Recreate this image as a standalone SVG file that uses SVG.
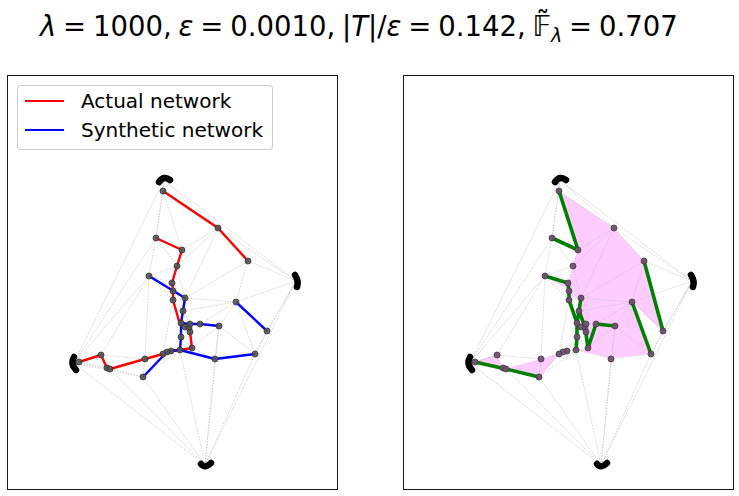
<svg xmlns="http://www.w3.org/2000/svg" xmlns:xlink="http://www.w3.org/1999/xlink" width="739" height="496" viewBox="0 0 739 496">
<style>
.frame{fill:none;stroke:#1a1a1a;stroke-width:1}
.mesh{fill:none;stroke:#bdbdbd;stroke-width:0.6;stroke-dasharray:1.6 1.2}
.red{fill:none;stroke:#ff0000;stroke-width:2.4;stroke-linejoin:round}
.blue{fill:none;stroke:#0000ff;stroke-width:2.4;stroke-linejoin:round}
.green{fill:none;stroke:#008000;stroke-width:3.6;stroke-linejoin:round;stroke-linecap:round}
.pink{fill:#ff00ff;fill-opacity:0.2;stroke:none}
.clu{fill:none;stroke:#000;stroke-width:6.5;stroke-linecap:round}
.nl{fill:#555;fill-opacity:0.9;stroke:#333;stroke-width:0.8}
.nr{fill:#6c546c;fill-opacity:0.95;stroke:#4a354a;stroke-width:0.8}
.t{font-family:"DejaVu Sans",sans-serif;fill:#000}
</style>
<defs>
<path id="meshp" class="mesh" d="M164 180L163 191M164 180L156 238M164 180L74 363M164 180L218 228M164 180L296 281M163 191L156 238M163 191L218 228M163 191L182 250M156 238L182 250M218 228L182 250M218 228L248 261M218 228L296 281M248 261L296 281M218 228L177 266M218 228L185 298M248 261L185 298M248 261L236 302M236 302L296 281M267 331L296 281M236 302L267 331M255 354L296 281M255 354L267 331M205 465L296 281M205 465L255 354M205 465L215 359M205 465L219 326M205 465L180 350M205 465L143 377M205 465L110 369M205 465L74 363M156 238L177 266M182 250L177 266M156 238L149 276M156 238L74 363M149 276L74 363M101 355L74 363M107 368L74 363M143 377L74 363M149 276L101 355M149 276L177 266M177 266L172 283M149 276L172 283M172 283L173 291M173 291L173 300M149 276L173 300M173 300L185 298M177 266L185 298M185 298L183 311M185 298L236 302M183 311L173 300M183 311L181 323M183 311L236 302M183 311L190 324M190 324L200 324M200 324L236 302M200 324L219 326M219 326L236 302M219 326L215 359M219 326L255 354M215 359L255 354M236 302L255 354M215 359L192 348M219 326L192 348M190 332L192 348M181 337L192 348M181 337L181 323M181 337L180 350M180 350L192 348M180 350L215 359M180 350L171 351M171 351L167 352M167 352L163 354M163 354L145 359M145 359L101 355M145 359L143 377M143 377L110 369M110 369L107 368M107 368L79 362M79 362L101 355M101 355L107 368M163 354L143 377M180 350L143 377M173 300L181 323M149 276L145 359M173 300L163 354M181 323L185 327L189 328L190 332"/>
<circle id="nd" r="3"/>
</defs>

<text class="t" x="40" y="36" font-size="27.5" word-spacing="-1.9"><tspan font-style="italic">λ</tspan> = 1000, <tspan font-style="italic">ε</tspan> = 0.0010, |<tspan font-style="italic">T</tspan>|/<tspan font-style="italic">ε</tspan> = 0.142, 𝔽̃<tspan font-style="italic" font-size="19" dy="6">λ</tspan><tspan dy="-6"> = 0.707</tspan></text>

<rect class="frame" x="7.5" y="75.5" width="330" height="414"/>
<rect class="frame" x="403.5" y="75.5" width="330" height="414"/>

<g id="pink-regions">
<path class="pink" d="M559 191L614 228L644 261L663 332L632 302L651 354L611 358L588 349L586 330L579 311L581 298L569 297L569 290L545 276L568 283L573 266L578 250Z"/>
<path class="pink" d="M576 350L588 349L611 358Z"/>
<path class="pink" d="M474 362L497 355L503 369Z"/>
<path class="pink" d="M503 369L541 359L559 354L539 378Z"/>
</g>

<g id="connectors">
<use xlink:href="#meshp" href="#meshp"/>
<use xlink:href="#meshp" href="#meshp" x="396"/>
<path class="red" d="M163 191L218 228L248 261"/>
<path class="red" d="M156 238L182 250L177 266L172 283L173 291L173 300L179 321L185 327L189 328L190 332L192 348L180 350L171 351L167 352L163 354L145 359L110 369L107 368L101 355L79 362"/>
<path class="blue" d="M149 276L185 298L183 311L181 323L181 337L180 350L215 359L255 354"/>
<path class="blue" d="M181 323L190 324L200 324L219 326"/>
<path class="blue" d="M143 377L167 352L171 351L180 350"/>
<path class="blue" d="M236 302L267 331"/>
<path class="green" d="M559 191L578 250M552 238L578 250M644 261L663 331M632 302L651 354"/>
<path class="green" d="M545 276L568 283L569 291L569 300L577 323L577 337L576 350"/>
<path class="green" d="M581 298L579 311L577 323M579 311L585 327L588 348L596 324L615 326"/>
<path class="green" d="M475 362L506 369L539 377"/>
</g>

<g id="clusters">
<g id="L-top"><path class="clu" d="M159 182Q164 175 170 180"/></g>
<g id="L-left"><path class="clu" d="M74 357Q70 364 76 370"/></g>
<g id="L-right"><path class="clu" d="M295 275Q299 281 297 287"/></g>
<g id="L-bottom"><path class="clu" d="M201 464Q205 469 211 463"/></g>
<g id="R-top"><path class="clu" d="M555 182Q560 175 566 180"/></g>
<g id="R-left"><path class="clu" d="M470 357Q466 364 472 370"/></g>
<g id="R-right"><path class="clu" d="M691 275Q695 281 693 287"/></g>
<g id="R-bottom"><path class="clu" d="M597 464Q601 469 607 463"/></g>
</g>

<g id="nodes-left" class="nl">
<g id="L-a"><use href="#nd" x="163" y="191"/></g>
<g id="L-b"><use href="#nd" x="218" y="228"/></g>
<g id="L-c"><use href="#nd" x="248" y="261"/></g>
<g id="L-d"><use href="#nd" x="156" y="238"/></g>
<g id="L-e"><use href="#nd" x="182" y="250"/></g>
<g id="L-f"><use href="#nd" x="177" y="266"/></g>
<g id="L-g"><use href="#nd" x="149" y="276"/></g>
<g id="L-h"><use href="#nd" x="172" y="283"/></g>
<g id="L-i"><use href="#nd" x="173" y="291"/></g>
<g id="L-j"><use href="#nd" x="173" y="300"/></g>
<g id="L-k"><use href="#nd" x="185" y="298"/></g>
<g id="L-l"><use href="#nd" x="183" y="311"/></g>
<g id="L-m"><use href="#nd" x="181" y="323"/></g>
<g id="L-n"><use href="#nd" x="185" y="327"/></g>
<g id="L-o"><use href="#nd" x="189" y="328"/></g>
<g id="L-p"><use href="#nd" x="190" y="332"/></g>
<g id="L-q"><use href="#nd" x="190" y="324"/></g>
<g id="L-r"><use href="#nd" x="200" y="324"/></g>
<g id="L-s"><use href="#nd" x="219" y="326"/></g>
<g id="L-t"><use href="#nd" x="181" y="337"/></g>
<g id="L-u"><use href="#nd" x="192" y="348"/></g>
<g id="L-v"><use href="#nd" x="180" y="350"/></g>
<g id="L-w"><use href="#nd" x="171" y="351"/></g>
<g id="L-x"><use href="#nd" x="167" y="352"/></g>
<g id="L-y"><use href="#nd" x="163" y="354"/></g>
<g id="L-z"><use href="#nd" x="145" y="359"/></g>
<g id="L-aa"><use href="#nd" x="143" y="377"/></g>
<g id="L-bb"><use href="#nd" x="215" y="359"/></g>
<g id="L-cc"><use href="#nd" x="255" y="354"/></g>
<g id="L-dd"><use href="#nd" x="236" y="302"/></g>
<g id="L-ee"><use href="#nd" x="267" y="331"/></g>
<g id="L-ff"><use href="#nd" x="101" y="355"/></g>
<g id="L-gg"><use href="#nd" x="79" y="362"/></g>
<g id="L-hh"><use href="#nd" x="107" y="368"/></g>
<g id="L-ii"><use href="#nd" x="110" y="369"/></g>
</g>

<g id="nodes-right" class="nr">
<g id="R-a"><use href="#nd" x="559" y="191"/></g>
<g id="R-b"><use href="#nd" x="614" y="228"/></g>
<g id="R-c"><use href="#nd" x="644" y="261"/></g>
<g id="R-d"><use href="#nd" x="552" y="238"/></g>
<g id="R-e"><use href="#nd" x="578" y="250"/></g>
<g id="R-f"><use href="#nd" x="573" y="266"/></g>
<g id="R-g"><use href="#nd" x="545" y="276"/></g>
<g id="R-h"><use href="#nd" x="568" y="283"/></g>
<g id="R-i"><use href="#nd" x="569" y="291"/></g>
<g id="R-j"><use href="#nd" x="569" y="300"/></g>
<g id="R-k"><use href="#nd" x="581" y="298"/></g>
<g id="R-l"><use href="#nd" x="579" y="311"/></g>
<g id="R-m"><use href="#nd" x="577" y="323"/></g>
<g id="R-n"><use href="#nd" x="581" y="327"/></g>
<g id="R-o"><use href="#nd" x="585" y="328"/></g>
<g id="R-p"><use href="#nd" x="586" y="332"/></g>
<g id="R-q"><use href="#nd" x="586" y="324"/></g>
<g id="R-r"><use href="#nd" x="596" y="324"/></g>
<g id="R-s"><use href="#nd" x="615" y="326"/></g>
<g id="R-t"><use href="#nd" x="577" y="337"/></g>
<g id="R-u"><use href="#nd" x="588" y="348"/></g>
<g id="R-v"><use href="#nd" x="576" y="350"/></g>
<g id="R-w"><use href="#nd" x="567" y="351"/></g>
<g id="R-x"><use href="#nd" x="563" y="352"/></g>
<g id="R-y"><use href="#nd" x="559" y="354"/></g>
<g id="R-z"><use href="#nd" x="541" y="359"/></g>
<g id="R-aa"><use href="#nd" x="539" y="377"/></g>
<g id="R-bb"><use href="#nd" x="611" y="359"/></g>
<g id="R-cc"><use href="#nd" x="651" y="354"/></g>
<g id="R-dd"><use href="#nd" x="632" y="302"/></g>
<g id="R-ee"><use href="#nd" x="663" y="331"/></g>
<g id="R-ff"><use href="#nd" x="497" y="355"/></g>
<g id="R-gg"><use href="#nd" x="475" y="362"/></g>
<g id="R-hh"><use href="#nd" x="503" y="368"/></g>
<g id="R-ii"><use href="#nd" x="506" y="369"/></g>
</g>

<g id="legend">
<rect x="17.5" y="85.5" width="255" height="64" rx="3" fill="#fff" fill-opacity="0.8" stroke="#cccccc" stroke-width="1"/>
<line x1="25" y1="101" x2="64" y2="101" stroke="#ff0000" stroke-width="2.2"/>
<line x1="25" y1="130" x2="64" y2="130" stroke="#0000ff" stroke-width="2.2"/>
<text class="t" x="81" y="108" font-size="20">Actual network</text>
<text class="t" x="81" y="137" font-size="20">Synthetic network</text>
</g>
</svg>
